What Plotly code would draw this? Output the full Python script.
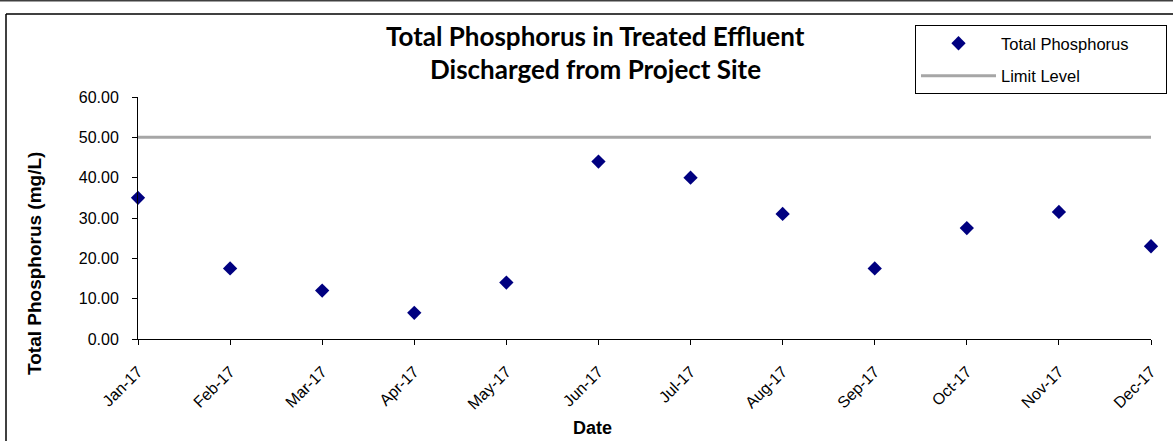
import plotly.graph_objects as go

months = ["Jan-17", "Feb-17", "Mar-17", "Apr-17", "May-17", "Jun-17",
          "Jul-17", "Aug-17", "Sep-17", "Oct-17", "Nov-17", "Dec-17"]
phosphorus = [35.0, 17.5, 12.0, 6.5, 14.0, 44.0, 40.0, 31.0, 17.5, 27.5, 31.5, 23.0]
limit_level = [50.0] * 12
y_ticks = [0, 10, 20, 30, 40, 50, 60]

W, H = 1173, 441
L, R, T, B = 138, 1151, 97, 339


def px(x):
    return (x - L) / (R - L)


def py(y):
    return (B - y) / (B - T)


pad = "\u00a0" * 7

fig = go.Figure()
fig.add_trace(go.Scatter(
    x=months, y=phosphorus, mode="markers", name="Total Phosphorus" + pad,
    legendgroup="a",
    marker=dict(symbol="diamond", size=11, color="#000080"),
    cliponaxis=False,
))
fig.add_trace(go.Scatter(
    x=months, y=limit_level, mode="lines", name="Limit Level",
    legendgroup="b",
    line=dict(color="#A6A6A6", width=3),
    cliponaxis=False,
))

axis_font = dict(family="Liberation Sans", size=16, color="black")

fig.update_layout(
    width=W, height=H,
    margin=dict(l=L, r=W - R, t=T, b=H - B, pad=0, autoexpand=False),
    paper_bgcolor="white", plot_bgcolor="white",
    showlegend=True,
    legend=dict(
        x=px(915), y=py(25), xanchor="left", yanchor="top",
        bordercolor="black", borderwidth=1, bgcolor="white",
        font=dict(family="Liberation Sans", size=16.5, color="black"),
        itemwidth=75, tracegroupgap=8, traceorder="grouped",
    ),
    xaxis=dict(
        type="category", categoryorder="array", categoryarray=months,
        range=[0, 11], showgrid=False, zeroline=False, automargin=False,
        showline=True, linecolor="black", linewidth=1,
        ticks="outside", ticklen=5, tickcolor="black",
        tickangle=-45, tickfont=axis_font, ticklabelstandoff=11,
    ),
    yaxis=dict(
        range=[0, 60], tickvals=y_ticks, tickformat=".2f", automargin=False,
        showgrid=False, zeroline=False,
        showline=True, linecolor="black", linewidth=1,
        ticks="outside", ticklen=5, tickcolor="black",
        tickfont=axis_font, ticklabelstandoff=10,
    ),
    font=dict(family="Liberation Sans", color="black"),
)

title_font = dict(family="Lato", size=26, color="black")
fig.add_annotation(text="<b>Total Phosphorus in Treated Effluent</b>", x=px(595), y=py(36),
                   xref="paper", yref="paper", showarrow=False, font=title_font,
                   xanchor="center", yanchor="middle")
fig.add_annotation(text="<b>Discharged from Project Site</b>", x=px(595), y=py(69),
                   xref="paper", yref="paper", showarrow=False, font=title_font,
                   xanchor="center", yanchor="middle")
fig.add_annotation(text="<b>Total Phosphorus (mg/L)</b>", x=px(34), y=py(264),
                   xref="paper", yref="paper", showarrow=False, textangle=-90,
                   font=dict(family="Liberation Sans", size=19, color="black"),
                   xanchor="center", yanchor="middle")
fig.add_annotation(text="<b>Date</b>", x=px(592), y=py(428),
                   xref="paper", yref="paper", showarrow=False,
                   font=dict(family="Liberation Sans", size=18, color="black"),
                   xanchor="center", yanchor="middle")

# frame lines
fig.add_shape(type="line", xref="paper", yref="paper", x0=px(0), x1=px(W), y0=py(0.5), y1=py(0.5),
              line=dict(color="#404040", width=2))
fig.add_shape(type="line", xref="paper", yref="paper", x0=px(6), x1=px(W), y0=py(14), y1=py(14),
              line=dict(color="black", width=1.5))
fig.add_shape(type="line", xref="paper", yref="paper", x0=px(6), x1=px(6), y0=py(14), y1=py(H),
              line=dict(color="black", width=1.5))

fig.write_html("out.html", config={"displayModeBar": False},
               post_script="document.body.style.margin='0';")
